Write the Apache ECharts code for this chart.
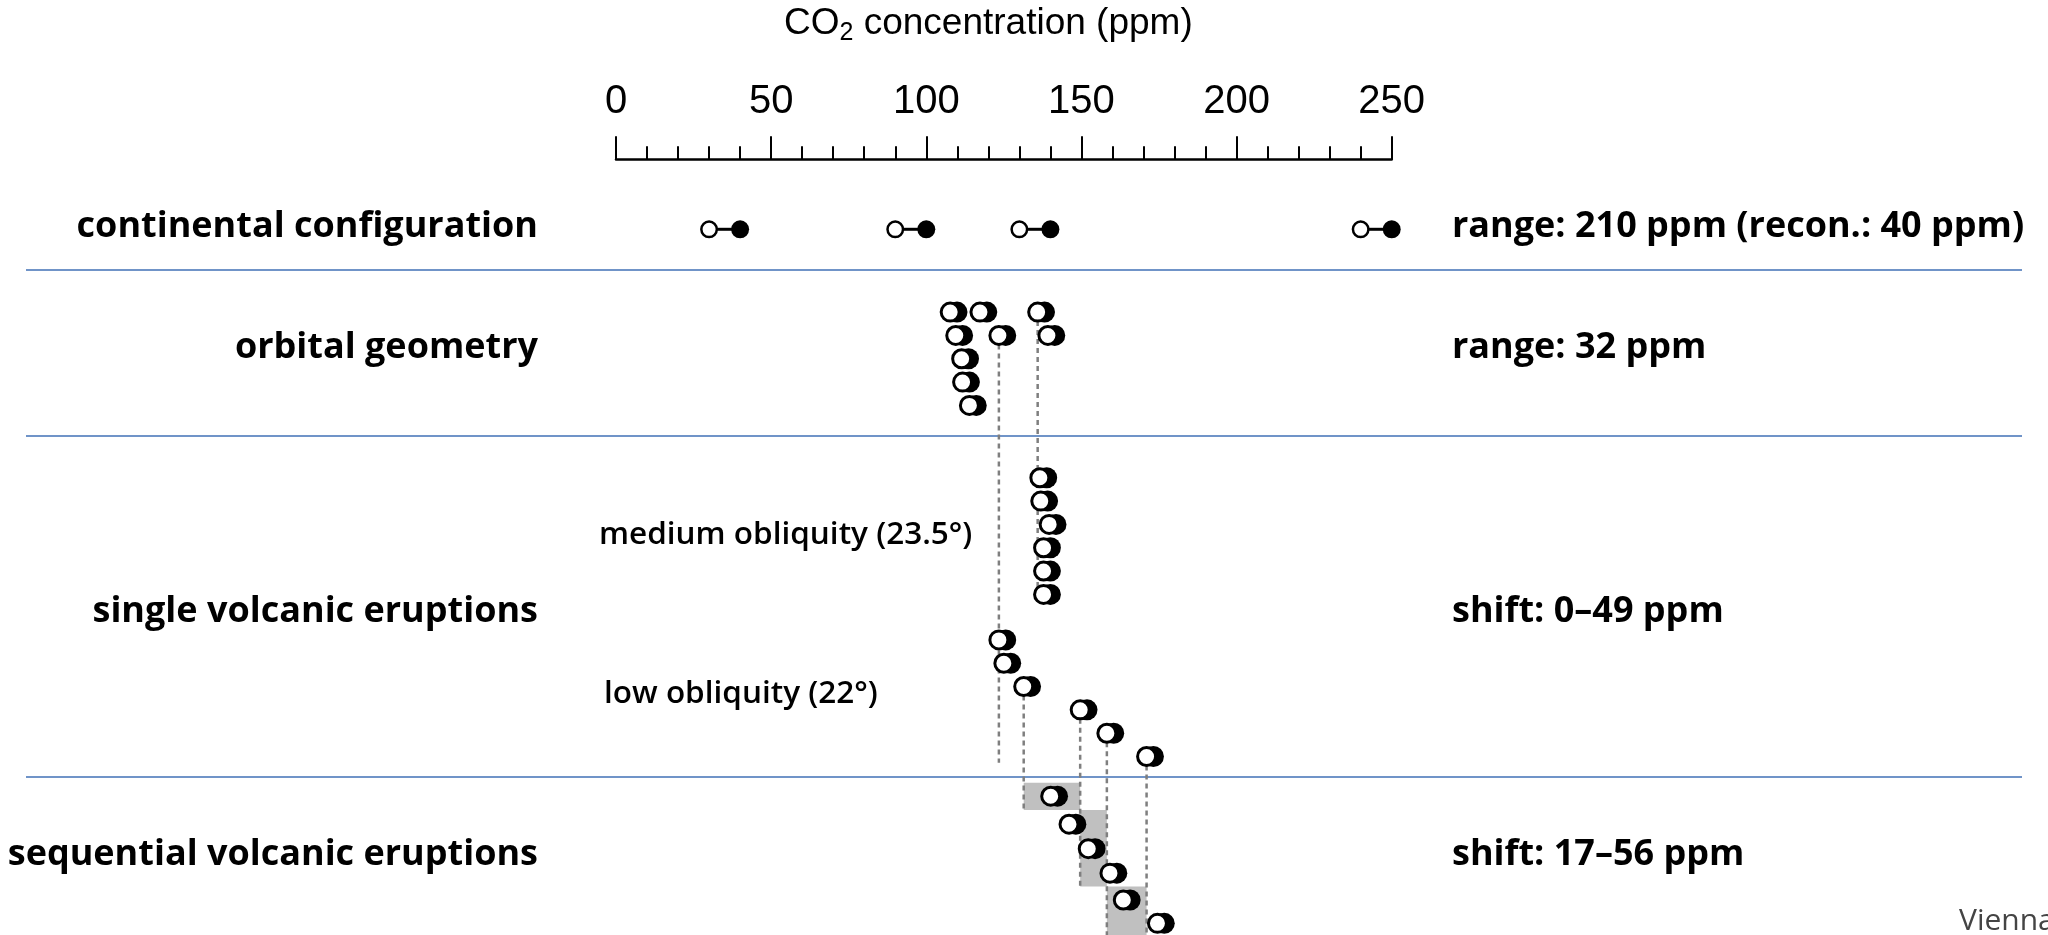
<!DOCTYPE html>
<html>
<head>
<meta charset="utf-8">
<title>CO2 concentration</title>
<script src="https://cdn.jsdelivr.net/npm/echarts@6/dist/echarts.min.js"></script>
<style>
  html, body { margin: 0; padding: 0; background: #fff; }
  #chart { width: 2048px; height: 935px; }
</style>
</head>
<body>
<div id="chart"></div>
<script>
// x = CO2 (ppm), lane = vertical slot below the axis (1 lane = one stacked dot)
const contOpen = [30, 90, 130, 240];
const contFilled = [40, 100, 140, 250];
const contLane = [3, 3, 3, 3];

const orbOpen = [107.7, 117.3, 135.9, 109.5, 123.4, 139.2, 111.4, 111.7, 113.9];
const orbFilled = [109.9, 119.5, 138.1, 111.7, 125.6, 141.4, 113.6, 113.9, 116.1];
const orbLane = [6.55, 6.55, 6.55, 7.55, 7.55, 7.55, 8.55, 9.55, 10.55];

const medOpen = [136.6, 136.9, 139.6, 137.8, 137.8, 137.8];
const medFilled = [138.8, 139.1, 141.8, 140.0, 140.0, 140.0];
const medLane = [13.65, 14.65, 15.65, 16.65, 17.65, 18.65];

const lowOpen = [123.4, 125.0, 131.4, 149.6, 158.2, 171.0];
const lowFilled = [125.6, 127.2, 133.6, 151.8, 160.4, 173.2];
const lowLane = [20.6, 21.6, 22.6, 23.6, 24.6, 25.6];

const seqOpen = [140.1, 146.0, 152.2, 159.2, 163.5, 174.5];
const seqFilled = [142.3, 148.2, 154.4, 161.4, 165.7, 176.7];
const seqLane = [27.3, 28.5, 29.55, 30.6, 31.75, 32.75];

// dashed guides
const guideX = [123.4, 135.9, 131.4, 149.6, 158.2, 171.0];
const guideFrom = [7.55, 6.55, 22.6, 23.6, 24.6, 25.6];
const guideTo = [25.87, 18.65, 27.89, 31.17, 33.25, 33.25];

// grey boxes in the sequential panel
const boxFrom = [131.4, 149.6, 158.2];
const boxTo = [149.6, 158.2, 171.0];
const boxTop = [26.72, 27.89, 31.17];
const boxBottom = [27.89, 31.17, 33.25];

const axisTicks = [0, 50, 100, 150, 200, 250];

const rowNames = ["continental configuration", "orbital geometry", "single volcanic eruptions", "sequential volcanic eruptions"];
const rowNotes = ["range: 210 ppm (recon.: 40 ppm)", "range: 32 ppm", "shift: 0\u201349 ppm", "shift: 17\u201356 ppm"];
const rowY = [227, 348, 612, 855];
const separatorY = [270, 436, 777];

const pairs = (xs, ys) => xs.map((x, i) => [x, ys[i]]);
const swarmOpen = [].concat(pairs(orbOpen, orbLane), pairs(medOpen, medLane), pairs(lowOpen, lowLane), pairs(seqOpen, seqLane));
const swarmFilled = [].concat(pairs(orbFilled, orbLane), pairs(medFilled, medLane), pairs(lowFilled, lowLane), pairs(seqFilled, seqLane));

const chart = echarts.init(document.getElementById("chart"));

const labelFont = { fontFamily: "Open Sans", fontWeight: 700, fontSize: 36, fill: "#000" };
const noteFont = { fontFamily: "Open Sans", fontWeight: 600, fontSize: 31.5, fill: "#000", verticalAlign: "middle" };

const graphics = [];
rowNames.forEach((name, i) => {
  graphics.push({ type: "text", x: 538, y: rowY[i], style: Object.assign({ text: name, align: "right", verticalAlign: "middle" }, labelFont) });
  graphics.push({ type: "text", x: 1452, y: rowY[i], style: Object.assign({ text: rowNotes[i], align: "left", verticalAlign: "middle" }, labelFont) });
});
separatorY.forEach((y) => {
  graphics.push({ type: "line", shape: { x1: 26, y1: y, x2: 2022, y2: y }, style: { stroke: "#7094c8", lineWidth: 2 } });
});
graphics.push({
  type: "text", x: 784, y: 24,
  style: {
    text: "{m|CO}{s|2}{m| concentration (ppm)}",
    verticalAlign: "middle",
    fill: "#000",
    rich: {
      m: { fontFamily: "Liberation Sans", fontSize: 37, lineHeight: 44, fill: "#000" },
      s: { fontFamily: "Liberation Sans", fontSize: 25, lineHeight: 25, verticalAlign: "bottom", fill: "#000" },
    },
  },
});
graphics.push({ type: "text", x: 599, y: 535, style: Object.assign({ text: "medium obliquity (23.5\u00b0)" }, noteFont) });
graphics.push({ type: "text", x: 604, y: 694, style: Object.assign({ text: "low obliquity (22\u00b0)" }, noteFont) });
graphics.push({ type: "text", x: 1959, y: 921, style: { text: "Vienna", fontFamily: "Open Sans", fontSize: 30, fill: "#444", verticalAlign: "middle" } });

const option = {
  backgroundColor: "#fff",
  animation: false,
  grid: { left: 616, right: 656.3, top: 159.3, bottom: 0 },
  xAxis: {
    type: "value",
    position: "top",
    min: 0,
    max: 250,
    interval: 50,
    axisLine: { lineStyle: { color: "#000", width: 2.5 } },
    axisTick: { length: 23, lineStyle: { color: "#000", width: 2 } },
    minorTick: { show: true, splitNumber: 5, length: 13, lineStyle: { color: "#000", width: 2 } },
    axisLabel: {
      margin: 37, fontSize: 40, fontFamily: "Liberation Sans", color: "#000",
      formatter: (v) => (axisTicks.indexOf(v) >= 0 ? String(v) : ""),
    },
    splitLine: { show: false },
    minorSplitLine: { show: false },
  },
  yAxis: { type: "value", inverse: true, min: 0, max: 33.25, show: false },
  graphic: graphics,
  series: [
    {
      type: "custom",
      z: 1,
      clip: false,
      data: boxFrom.map((x, i) => [x, boxTo[i], boxTop[i], boxBottom[i]]),
      renderItem: (params, api) => {
        const a = api.coord([api.value(0), api.value(2)]);
        const b = api.coord([api.value(1), api.value(3)]);
        return { type: "rect", shape: { x: a[0], y: a[1], width: b[0] - a[0], height: b[1] - a[1] }, style: { fill: "#c0c0c0" } };
      },
    },
    {
      type: "custom",
      z: 2,
      clip: false,
      data: guideX.map((x, i) => [x, guideFrom[i], guideTo[i]]),
      renderItem: (params, api) => {
        const a = api.coord([api.value(0), api.value(1)]);
        const b = api.coord([api.value(0), api.value(2)]);
        return { type: "line", shape: { x1: a[0], y1: a[1], x2: b[0], y2: b[1] }, style: { stroke: "#7f7f7f", lineWidth: 2.5, lineDash: [5, 4] } };
      },
    },
    {
      type: "custom",
      z: 3,
      clip: false,
      data: contOpen.map((x, i) => [x, contFilled[i], contLane[i]]),
      renderItem: (params, api) => {
        const a = api.coord([api.value(0), api.value(2)]);
        const b = api.coord([api.value(1), api.value(2)]);
        return { type: "line", shape: { x1: a[0], y1: a[1], x2: b[0], y2: b[1] }, style: { stroke: "#000", lineWidth: 3 } };
      },
    },
    {
      type: "scatter", z: 4, symbolSize: 18,
      itemStyle: { color: "#000", opacity: 1 },
      data: pairs(contFilled, contLane),
    },
    {
      type: "scatter", z: 5, symbolSize: 15.5,
      itemStyle: { color: "#fff", borderColor: "#000", borderWidth: 2.5, opacity: 1 },
      data: pairs(contOpen, contLane),
    },
    {
      type: "scatter", z: 4, symbolSize: 21,
      itemStyle: { color: "#000", opacity: 1 },
      data: swarmFilled,
    },
    {
      type: "scatter", z: 5, symbolSize: 18,
      itemStyle: { color: "#fff", borderColor: "#000", borderWidth: 3, opacity: 1 },
      data: swarmOpen,
    },
  ],
};

chart.setOption(option);
</script>
</body>
</html>
